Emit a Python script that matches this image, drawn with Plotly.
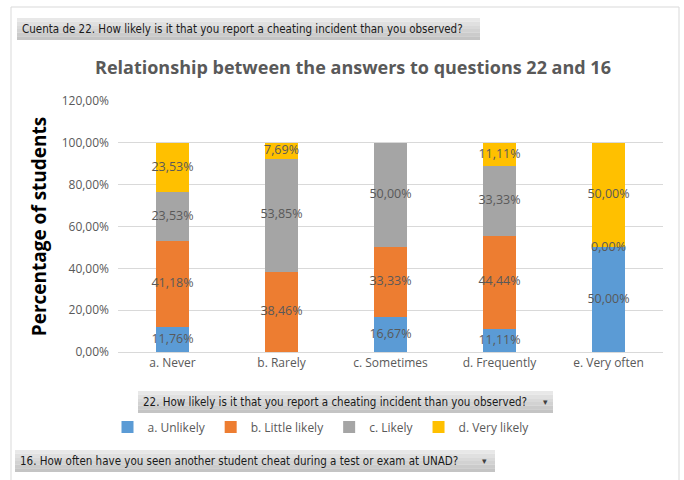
import plotly.graph_objects as go

categories = ["a. Never", "b. Rarely", "c. Sometimes", "d. Frequently", "e. Very often"]
series_names = ["a. Unlikely", "b. Little likely", "c. Likely", "d. Very likely"]
unlikely = [11.76, None, 16.67, 11.11, 50.00]
little_likely = [41.18, 38.46, 33.33, 44.44, None]
likely = [23.53, 53.85, 50.00, 33.33, 0.00]
very_likely = [23.53, 7.69, None, 11.11, 50.00]
series_values = [unlikely, little_likely, likely, very_likely]
colors = ["#5B9BD5", "#ED7D31", "#A5A5A5", "#FFC000"]
tick_vals = [0, 20, 40, 60, 80, 100, 120]
tick_labels = ["0,00%", "20,00%", "40,00%", "60,00%", "80,00%", "100,00%", "120,00%"]

def fmt(v):
    return f"{v:.2f}%".replace(".", ",")

fig = go.Figure()
base = [0.0] * len(categories)
label_x, label_y, label_t = [], [], []
for name, vals, col in zip(series_names, series_values, colors):
    y = [v if v is not None else 0 for v in vals]
    fig.add_trace(go.Bar(
        name=name, x=categories, y=y, marker=dict(color=col, line=dict(width=0)),
        width=0.3, hoverinfo="skip"))
    for i, v in enumerate(vals):
        if v is not None:
            label_x.append(categories[i])
            label_y.append(base[i] + v / 2)
            label_t.append(fmt(v))
        base[i] += y[i]

fig.add_trace(go.Scatter(
    x=label_x, y=label_y, text=label_t, mode="text", showlegend=False,
    textfont=dict(family="Open Sans", size=12.5, color="#595959"), hoverinfo="skip"))

# convert px to paper coordinates
L, R, T, B = 118, 663, 101, 352
def px(x):
    return (x - L) / (R - L)
def py(y):
    return (B - y) / (B - T)

BTN_FONT = "DejaVu Sans Condensed, Roboto Condensed, Roboto"

shapes = []
annotations = []
def button(x0, x1, y0, y1, text, arrow_x=None):
    n = 6
    for k in range(n):
        ya = y0 + (y1 - y0) * k / n
        yb = y0 + (y1 - y0) * (k + 1) / n
        g = int(232 - (232 - 196) * k / (n - 1))
        shapes.append(dict(type="rect", xref="paper", yref="paper",
                           x0=px(x0), x1=px(x1), y0=py(yb), y1=py(ya),
                           fillcolor=f"rgb({g},{g},{g})", line=dict(width=0), layer="below"))
    annotations.append(dict(xref="paper", yref="paper", x=px(x0 + 3), y=py((y0 + y1) / 2),
                            text=text, showarrow=False, xanchor="left", yanchor="middle",
                            font=dict(family=BTN_FONT, size=11.5, color="#1a1a1a")))
    if arrow_x is not None:
        annotations.append(dict(xref="paper", yref="paper", x=px(arrow_x), y=py((y0 + y1) / 2),
                                text="▾", showarrow=False, xanchor="center", yanchor="middle",
                                font=dict(family="DejaVu Sans", size=9, color="#404040")))

button(17, 480, 18, 40, "Cuenta de 22. How likely is it that you report a cheating incident than you observed?")
button(138, 553, 391, 413, "22. How likely is it that you report a cheating incident than you observed?", 545)
button(15, 495, 450, 472, "16. How often have you seen another student cheat during a test or exam at UNAD?", 484)

# outer border
shapes.append(dict(type="rect", xref="paper", yref="paper",
                   x0=px(11), x1=px(679), y0=py(490), y1=py(7),
                   line=dict(color="#D9D9D9", width=1), fillcolor="rgba(0,0,0,0)", layer="below"))

fig.update_layout(
    barmode="stack",
    width=684, height=480,
    margin=dict(l=L, r=684 - R, t=T, b=480 - B),
    paper_bgcolor="white", plot_bgcolor="white",
    title=dict(text="Relationship between the answers to questions 22 and 16",
               x=353 / 684, xref="container", xanchor="center", y=1 - 68 / 480, yanchor="middle",
               font=dict(family="Open Sans", size=18, color="#595959", weight="bold")),
    xaxis=dict(showgrid=False, showline=True, linecolor="#D9D9D9", linewidth=1,
               ticks="", tickfont=dict(family="Open Sans", size=12, color="#595959"),
               fixedrange=True),
    yaxis=dict(range=[0, 120], tickvals=tick_vals, ticktext=tick_labels,
               showgrid=True, gridcolor="#D9D9D9", gridwidth=1, zeroline=False,
               tickfont=dict(family="Open Sans", size=12, color="#595959"),
               ticklabelstandoff=8,
               title=dict(text="Percentage of students", standoff=10,
                          font=dict(family="Open Sans", size=19, color="#000000", weight="bold"))),
    legend=dict(orientation="h", x=px(321), xanchor="center", y=py(427), yanchor="middle",
                font=dict(family="Open Sans", size=12, color="#595959"),
                traceorder="normal", itemwidth=30, bgcolor="rgba(0,0,0,0)"),
    shapes=shapes, annotations=annotations,
)
fig.write_html("out.html")
